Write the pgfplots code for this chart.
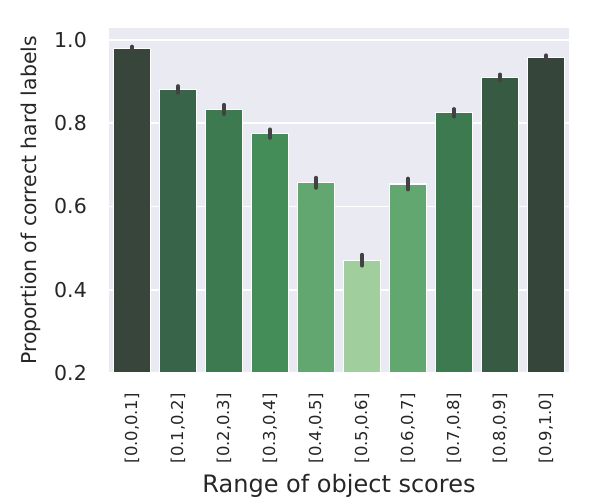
\documentclass[border=0pt]{standalone}
\usepackage{fontspec}
\setmainfont{DejaVu Sans}
\usepackage{pgfplots}
\pgfplotsset{compat=1.18}
\definecolor{bgc}{HTML}{EAEAF2}
\definecolor{errc}{HTML}{424242}
\definecolor{txt}{HTML}{262626}
\definecolor{g1}{HTML}{37453A}
\definecolor{g2}{HTML}{38654A}
\definecolor{g3}{HTML}{3E7A50}
\definecolor{g4}{HTML}{448D59}
\definecolor{g5}{HTML}{62A770}
\definecolor{g6}{HTML}{A0CF9D}
\definecolor{g7}{HTML}{62A770}
\definecolor{g8}{HTML}{3E7A50}
\definecolor{g9}{HTML}{375A43}
\definecolor{g10}{HTML}{364539}

\begin{document}
\begin{tikzpicture}
\useasboundingbox (-109bp,-126bp) rectangle (489bp,373bp);
\begin{axis}[
    at={(0,0)}, anchor=south west,
    scale only axis,
    width=460bp, height=345bp,
    xmin=-0.5, xmax=9.5,
    ymin=0.2, ymax=1.0288,
    ybar, bar width=0.8, bar shift=0pt,
    axis background/.style={fill=bgc},
    axis line style={draw=none},
    major tick length=0pt,
    ymajorgrids,
    grid style={white, line width=1.6bp},
    xtick={0,...,9},
    xticklabels={{[0.0,0.1]},{[0.1,0.2]},{[0.2,0.3]},{[0.3,0.4]},{[0.4,0.5]},{[0.5,0.6]},{[0.6,0.7]},{[0.7,0.8]},{[0.8,0.9]},{[0.9,1.0]}},
    ytick={0.2,0.4,0.6,0.8,1.0},
    yticklabel style={/pgf/number format/fixed, /pgf/number format/fixed zerofill, /pgf/number format/precision=1, /pgf/number format/assume math mode=true, font=\fontsize{20.5bp}{24bp}\selectfont, text=txt, inner sep=0pt},
    yticklabel shift=22bp,
    xticklabel style={rotate=90, anchor=east, font=\fontsize{16.4bp}{20bp}\selectfont, text=txt, inner sep=0pt},
    xticklabel shift=20bp,
    xlabel={Range of object scores},
    ylabel={Proportion of correct hard labels},
    every axis x label/.style={at={(axis description cs:0.5,-0.3275)}, anchor=center, font=\fontsize{24bp}{28bp}\selectfont, text=txt},
    every axis y label/.style={at={(axis description cs:-0.170,0.5)}, anchor=center, rotate=90, font=\fontsize{20.4bp}{24bp}\selectfont, text=txt},
    every axis plot/.append style={draw=white, line width=1.3bp},
    error bars/y dir=both,
    error bars/y explicit,
    error bars/error mark=none,
    error bars/error bar style={errc, line width=4bp, line cap=round},
]
\addplot[fill=g1] coordinates {(0,0.979) +- (0,0.005)};
\addplot[fill=g2] coordinates {(1,0.881) +- (0,0.008)};
\addplot[fill=g3] coordinates {(2,0.833) +- (0,0.011)};
\addplot[fill=g4] coordinates {(3,0.775) +- (0,0.010)};
\addplot[fill=g5] coordinates {(4,0.657) +- (0,0.012)};
\addplot[fill=g6] coordinates {(5,0.471) +- (0,0.013)};
\addplot[fill=g7] coordinates {(6,0.654) +- (0,0.013)};
\addplot[fill=g8] coordinates {(7,0.825) +- (0,0.009)};
\addplot[fill=g9] coordinates {(8,0.910) +- (0,0.007)};
\addplot[fill=g10] coordinates {(9,0.958) +- (0,0.005)};
\end{axis}
\end{tikzpicture}
\end{document}
